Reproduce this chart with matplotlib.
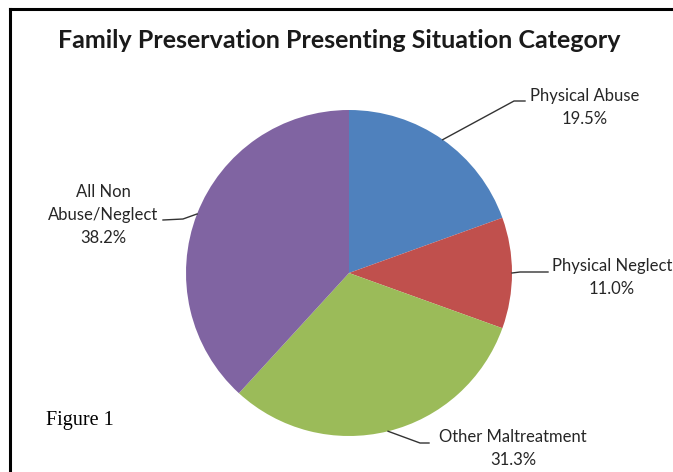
import numpy as np
import matplotlib
matplotlib.use("Agg")
import matplotlib.pyplot as plt
from matplotlib.lines import Line2D

title = "Family Preservation Presenting Situation Category"
labels = ["Physical Abuse", "Physical Neglect", "Other Maltreatment", "All Non\nAbuse/Neglect"]
shares = [19.5, 11.0, 31.3, 38.2]
colors = ["#4F81BD", "#C0504D", "#9BBB59", "#8064A2"]

W, H = 673, 472
cx, cy, r = 349, 273, 163

# label layout in picture pixels: text center x, y of first line,
# elbow of leader line, end of leader line
text_xy = [(585, 96), (612, 266), (513, 437), (103, 192)]
elbow_xy = [(514, 101), (520, 272), (420, 443), (183, 219)]
end_xy = [(525, 101), (548, 272), (429, 443), (163, 220)]
row_step = 23


def to_data(p):
    return (p[0] - cx) / r, (cy - p[1]) / r


fig = plt.figure(figsize=(W / 100, H / 100), dpi=100)
plt.rcParams['font.family'] = ['Lato', 'DejaVu Sans']

ax = fig.add_axes([(cx - r) / W, (H - cy - r) / H, 2 * r / W, 2 * r / H])
wedges, _ = ax.pie(shares, colors=colors, startangle=90, counterclock=False,
                   radius=1, wedgeprops=dict(linewidth=0))
ax.set_xlim(-1, 1)
ax.set_ylim(-1, 1)
ax.set_aspect("equal")
ax.axis("off")

for w, lab, s, tp, ep, np_ in zip(wedges, labels, shares, text_xy, elbow_xy, end_xy):
    mid = np.deg2rad((w.theta1 + w.theta2) / 2)
    px, py = np.cos(mid), np.sin(mid)
    e = to_data(ep)
    n = to_data(np_)
    ax.plot([px, e[0], n[0]], [py, e[1], n[1]], color="#333333", lw=1.0,
            clip_on=False)
    rows = lab.split("\n") + [f"{s:.1f}%"]
    for i, row in enumerate(rows):
        x, y = to_data((tp[0], tp[1] + row_step * i))
        ax.text(x, y, row, ha="center", va="center", fontsize=12,
                color="#262626", clip_on=False)

fig.text(339 / W, 1 - 40 / H, title, ha="center", va="center", fontsize=18,
         fontweight="bold", color="#1a1a1a")
fig.text(46 / W, 1 - 420 / H, "Figure 1", ha="left", va="center", fontsize=14.5,
         family="Liberation Serif", color="black")

fig.add_artist(Line2D([9.5 / W, 9.5 / W], [0, 1 - 9 / H], color="black", lw=2.2))
fig.add_artist(Line2D([9.5 / W, 1], [1 - 9 / H, 1 - 9 / H], color="black", lw=2.2))

fig.savefig("out.png", dpi=100)
